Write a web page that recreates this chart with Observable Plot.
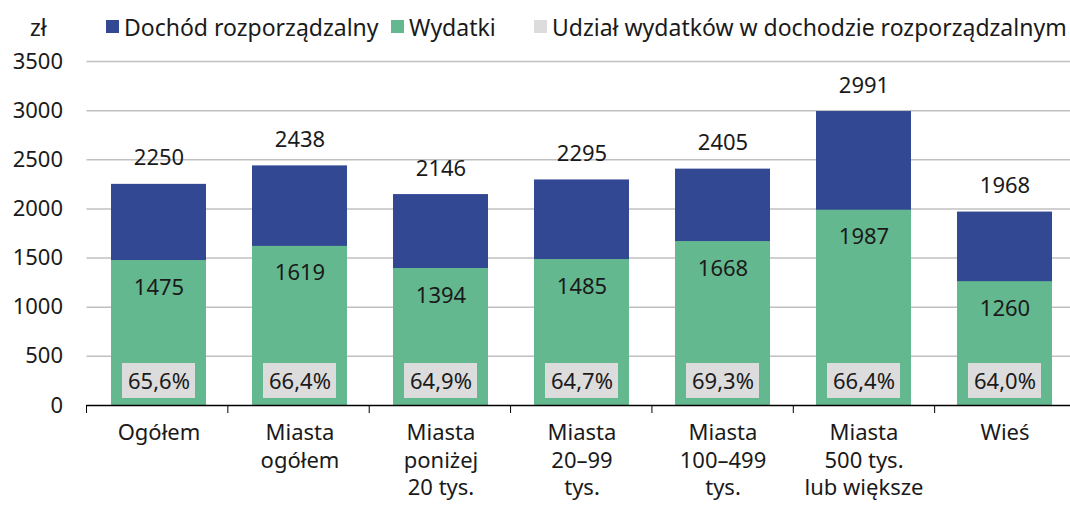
<!DOCTYPE html>
<html><head><meta charset="utf-8">
<script src="https://cdn.jsdelivr.net/npm/d3@7"></script>
<script src="https://cdn.jsdelivr.net/npm/@observablehq/plot@0.6"></script>
<style>
body{margin:0;background:#fff;font-family:"Noto Sans",sans-serif;}
#wrap{position:relative;width:1070px;height:505px;overflow:hidden;}
#legend{position:absolute;left:0;top:0;width:1070px;height:50px;font-size:23px;color:#1a1a1a;}
#legend span{position:absolute;top:12px;line-height:30px;white-space:nowrap;}
#legend i{position:absolute;top:20px;width:13px;height:13px;}
</style></head>
<body><div id="wrap"><div id="legend"></div></div>
<script>
const categories = ["Ogółem","Miasta\nogółem","Miasta\nponiżej\n20 tys.","Miasta\n20–99\ntys.","Miasta\n100–499\ntys.","Miasta\n500 tys.\nlub większe","Wieś"];
const dochod = [2250,2438,2146,2295,2405,2991,1968];
const wydatki = [1475,1619,1394,1485,1668,1987,1260];
const udzial = ["65,6%","66,4%","64,9%","64,7%","69,3%","66,4%","64,0%"];
const yTicks = [0,500,1000,1500,2000,2500,3000,3500];
const seriesNames = ["Dochód rozporządzalny","Wydatki","Udział wydatków w dochodzie rozporządzalnym"];
const colors = ["#334893","#64b88f","#dcdcdc"];

const data = categories.map((c,i)=>({c, d:dochod[i], w:wydatki[i], u:udzial[i]}));

const boundaryTicks = (index, scales, values, dims) => {
  const g = d3.create("svg:g");
  const n = categories.length;
  const step = (dims.width - dims.marginLeft - dims.marginRight)/n;
  const y0 = scales.y(0);
  for (let i=0;i<=n;i++){
    const x = dims.marginLeft + i*step;
    g.append("line").attr("x1",x).attr("x2",x).attr("y1",y0).attr("y2",y0+8).attr("stroke","#000").attr("stroke-width",1);
  }
  return g.node();
};

const chart = Plot.plot({
  width:1070, height:505,
  marginLeft:86.5, marginRight:-6, marginTop:61, marginBottom:100,
  style:{fontFamily:"Noto Sans, sans-serif", fontSize:"22px", color:"#1a1a1a", background:"#fff", overflow:"hidden"},
  x:{domain:categories, paddingInner:0.328, paddingOuter:0.164, label:null},
  y:{domain:[0,3500], label:null},
  marks:[
    Plot.ruleY(yTicks.filter(t=>t>0), {stroke:"#c0c0c0", strokeWidth:1.5}),
    Plot.axisY({ticks:yTicks, tickSize:0, tickPadding:24, tickFormat:d=>String(d), fontSize:22}),
    Plot.axisX({tickSize:0, tickPadding:15, fontSize:22, lineHeight:1.25}),
    Plot.barY(data, {x:"c", y1:0, y2:"d", fill:colors[0]}),
    Plot.barY(data, {x:"c", y1:0, y2:"w", fill:colors[1]}),
    Plot.barY(data, {x:"c", y1:0, y2:0, fill:colors[2], insetTop:-42, insetBottom:7, insetLeft:11, insetRight:11}),
    Plot.text(data, {x:"c", y:"d", text:d=>String(d.d), dy:-26, fontSize:22, fill:"#1a1a1a"}),
    Plot.text(data, {x:"c", y:"w", text:d=>String(d.w), dy:27, fontSize:22, fill:"#1a1a1a"}),
    Plot.text(data, {x:"c", y:0, text:"u", dy:-24, fontSize:22, fill:"#1a1a1a"}),
    Plot.ruleY([0], {stroke:"#000", strokeWidth:1.5}),
    boundaryTicks
  ]
});
document.getElementById("wrap").appendChild(chart);

const lg = document.getElementById("legend");
const zl = document.createElement("span"); zl.textContent="zł"; zl.style.left="30px"; lg.appendChild(zl);
const swLefts=[106,391,534];
seriesNames.forEach((s,i)=>{
  const sw=document.createElement("i");
  sw.style.left=swLefts[i]+"px";
  sw.style.background=colors[i];
  lg.appendChild(sw);
  const sp=document.createElement("span");
  sp.style.left=(swLefts[i]+18)+"px";
  sp.textContent=s;
  lg.appendChild(sp);
});
</script></body></html>
